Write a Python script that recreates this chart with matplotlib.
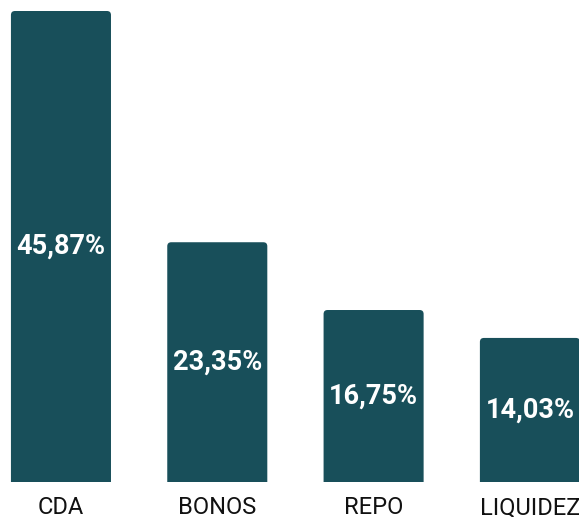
import matplotlib
matplotlib.use("Agg")
import matplotlib.pyplot as plt
from matplotlib.patches import FancyBboxPatch

# instrumentos y participación (%)
categorias = ["CDA", "BONOS", "REPO", "LIQUIDEZ"]
valores = [45.87, 23.35, 16.75, 14.03]
etiquetas = ["45,87%", "23,35%", "16,75%", "14,03%"]

color_barra = "#184f5a"
plt.rcParams['font.family'] = ['Roboto', 'DejaVu Sans']

fig = plt.figure(figsize=(5.79, 5.17), dpi=100)
ax = fig.add_axes([0, 35 / 517, 1, 471 / 517])
ax.set_xlim(-0.39, 3.314)
ax.set_ylim(0, max(valores))

ancho = 0.64
barras = ax.bar(range(len(valores)), valores, width=ancho, color=color_barra)

# esquinas superiores redondeadas: la caja baja por debajo de cero y el eje recorta la base
fig.canvas.draw()
px_x = ax.transData.transform((1, 0))[0] - ax.transData.transform((0, 0))[0]
px_y = ax.transData.transform((0, 1))[1] - ax.transData.transform((0, 0))[1]
radio = 4 / px_x
extra = 10 / px_y
for b in barras:
    x, w, h = b.get_x(), b.get_width(), b.get_height()
    b.set_visible(False)
    ax.add_patch(FancyBboxPatch((x, -extra), w, h + extra,
                                boxstyle=f"round,pad=0,rounding_size={radio}",
                                mutation_aspect=px_x / px_y,
                                facecolor=color_barra, edgecolor="none"))

for i, (v, t) in enumerate(zip(valores, etiquetas)):
    ax.text(i, v / 2, t, ha="center", va="center", color="white",
            fontsize=19.5, fontweight="bold")

ax.set_xticks(range(len(categorias)))
ax.set_xticklabels(categorias, fontsize=17, color="#111111")
ax.tick_params(axis="x", length=0, pad=10)
ax.set_yticks([])
for s in ax.spines.values():
    s.set_visible(False)

fig.savefig("out.png", dpi=100)
